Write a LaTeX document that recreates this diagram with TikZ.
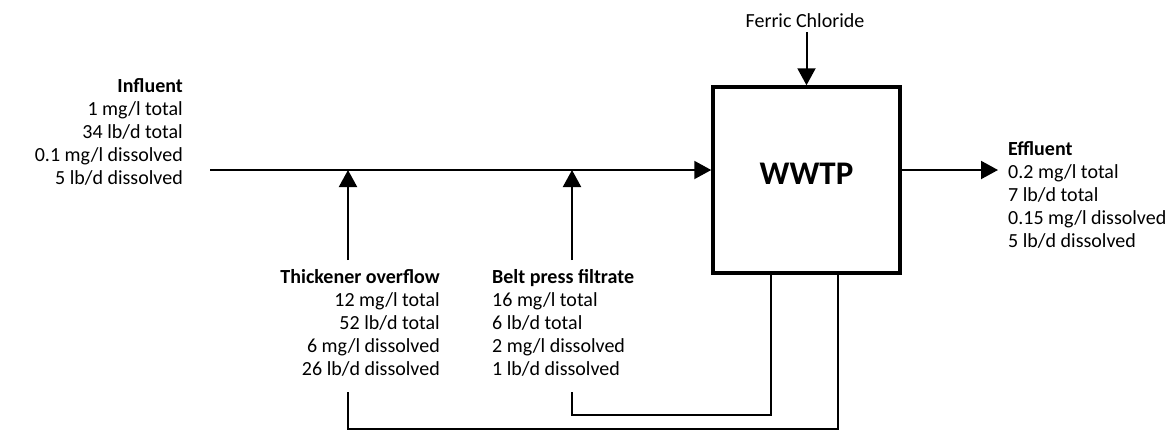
\documentclass[tikz,border=0pt]{standalone}
\usepackage{fontspec}
\setmainfont{Carlito}
\usetikzlibrary{arrows.meta}
\begin{document}
\begin{tikzpicture}[x=1pt,y=-1pt,
  lbl/.style={inner sep=0pt,font=\fontsize{20}{23}\selectfont},
  flow/.style={line width=2pt,-{Triangle[length=17pt,width=18pt]}},
  pipe/.style={line width=2pt},
  plant/.style={draw,line width=3.5pt,minimum width=187pt,minimum height=186pt,inner sep=0pt,font=\fontsize{33}{38}\selectfont\bfseries}]
\useasboundingbox (0,0) rectangle (1173,432);
% plant box
\node[plant] (wwtp) at (806.5,180) {\raisebox{12pt}{WWTP}};
% labels (base anchor = baseline of last line)
\node[lbl,anchor=base east,align=right] (influent) at (183,184)
  {\textbf{Influent}\\1 mg/l total\\34 lb/d total\\0.1 mg/l dissolved\\5 lb/d dissolved};
\node[lbl,anchor=base west,align=left] (effluent) at (1008,247)
  {\textbf{Effluent}\\0.2 mg/l total\\7 lb/d total\\0.15 mg/l dissolved\\5 lb/d dissolved};
\node[lbl,anchor=base east,align=right] (thick) at (440,375)
  {\textbf{Thickener overflow}\\12 mg/l total\\52 lb/d total\\6 mg/l dissolved\\26 lb/d dissolved};
\node[lbl,anchor=base west,align=left] (belt) at (492,375)
  {\textbf{Belt press filtrate}\\16 mg/l total\\6 lb/d total\\2 mg/l dissolved\\1 lb/d dissolved};
\node[lbl,anchor=base] (ferric) at (805,27) {Ferric Chloride};
% coordinates
\coordinate (in) at (210,170);
\coordinate (j1) at (348,170);
\coordinate (j2) at (572,170);
\coordinate (t0) at (348,260);
\coordinate (b0) at (572,260);
\coordinate (t1) at (348,392);
\coordinate (b1) at (572,392);
\coordinate (out) at (998,170);
% flows
\draw[flow] (in) -- (wwtp.west |- in);
\draw[flow] (t0) -- (j1);
\draw[flow] (b0) -- (j2);
\draw[flow] (ferric.south -| wwtp.north) ++(0,5) -- (wwtp.north);
\draw[flow] (wwtp.east |- out) -- (out);
% recycle pipes
\draw[pipe] (wwtp.south -| 838,0) -- (838,429) -| (t1);
\draw[pipe] (wwtp.south -| 771,0) -- (771,415) -| (b1);
\end{tikzpicture}
\end{document}
